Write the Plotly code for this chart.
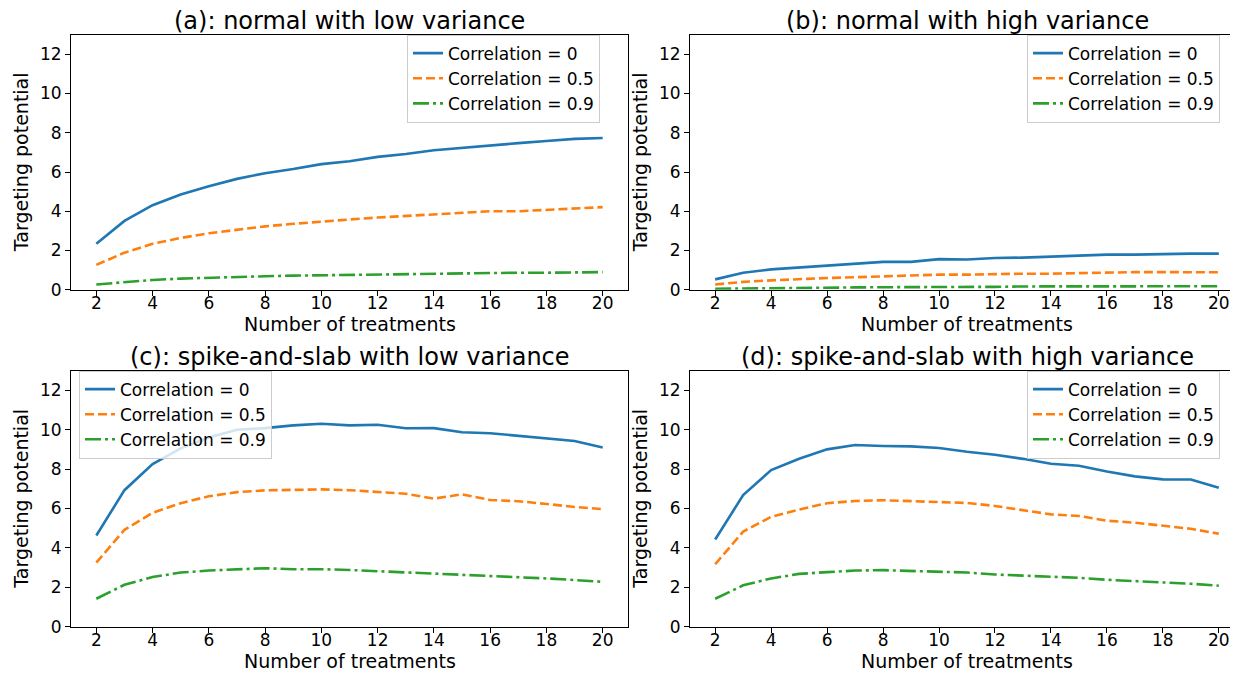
import plotly.graph_objects as go

# number of treatments
treatments = list(range(2, 21))

# (a) normal with low variance
a_corr0 = [2.34, 3.51, 4.31, 4.85, 5.27, 5.65, 5.94, 6.15, 6.40, 6.55, 6.77, 6.92, 7.11, 7.24, 7.36, 7.47, 7.58, 7.69, 7.73]
a_corr05 = [1.27, 1.89, 2.34, 2.64, 2.88, 3.06, 3.23, 3.36, 3.48, 3.58, 3.68, 3.76, 3.83, 3.90, 4.00, 4.00, 4.06, 4.15, 4.21]
a_corr09 = [0.27, 0.40, 0.50, 0.57, 0.62, 0.65, 0.69, 0.72, 0.74, 0.77, 0.79, 0.80, 0.82, 0.84, 0.85, 0.87, 0.87, 0.89, 0.90]

# (b) normal with high variance
b_corr0 = [0.53, 0.87, 1.04, 1.14, 1.25, 1.32, 1.42, 1.42, 1.56, 1.54, 1.62, 1.64, 1.69, 1.72, 1.79, 1.79, 1.82, 1.84, 1.84]
b_corr05 = [0.27, 0.40, 0.48, 0.55, 0.60, 0.64, 0.69, 0.72, 0.77, 0.77, 0.80, 0.82, 0.82, 0.85, 0.87, 0.90, 0.90, 0.89, 0.89]
b_corr09 = [0.05, 0.07, 0.09, 0.10, 0.12, 0.12, 0.13, 0.13, 0.15, 0.15, 0.15, 0.17, 0.17, 0.17, 0.18, 0.18, 0.18, 0.18, 0.18]

# (c) spike-and-slab with low variance
c_corr0 = [4.63, 6.93, 8.25, 9.05, 9.60, 10.00, 10.08, 10.22, 10.30, 10.22, 10.25, 10.07, 10.08, 9.87, 9.82, 9.68, 9.55, 9.43, 9.10]
c_corr05 = [3.25, 4.92, 5.78, 6.27, 6.62, 6.83, 6.92, 6.93, 6.97, 6.93, 6.85, 6.75, 6.50, 6.72, 6.43, 6.37, 6.23, 6.08, 5.97]
c_corr09 = [1.42, 2.13, 2.52, 2.75, 2.85, 2.92, 2.97, 2.92, 2.92, 2.88, 2.82, 2.77, 2.72, 2.63, 2.60, 2.53, 2.45, 2.37, 2.28]

# (d) spike-and-slab with high variance
d_corr0 = [4.43, 6.68, 7.95, 8.52, 9.00, 9.22, 9.17, 9.15, 9.07, 8.88, 8.73, 8.52, 8.27, 8.17, 7.88, 7.63, 7.48, 7.47, 7.05]
d_corr05 = [3.17, 4.83, 5.58, 5.95, 6.27, 6.38, 6.42, 6.37, 6.30, 6.28, 6.13, 5.92, 5.70, 5.62, 5.38, 5.28, 5.12, 4.97, 4.72]
d_corr09 = [1.42, 2.10, 2.45, 2.68, 2.77, 2.85, 2.87, 2.83, 2.80, 2.75, 2.65, 2.60, 2.52, 2.48, 2.38, 2.32, 2.23, 2.18, 2.08]

titles = ["(a): normal with low variance", "(b): normal with high variance",
          "(c): spike-and-slab with low variance", "(d): spike-and-slab with high variance"]
series_names = ["Correlation = 0", "Correlation = 0.5", "Correlation = 0.9"]
x_title = "Number of treatments"
y_title = "Targeting potential"

W, H = 1238, 677
FONT = "DejaVu Sans"
colors = ["#1f77b4", "#ff7f0e", "#2ca02c"]
dashes = ["solid", "9px,4px", "16px,4px,3px,4px"]

panels = [
    (a_corr0, a_corr05, a_corr09),
    (b_corr0, b_corr05, b_corr09),
    (c_corr0, c_corr05, c_corr09),
    (d_corr0, d_corr05, d_corr09),
]

# plot area boxes in pixels: left, right, top, bottom
boxes = [(63, 620, 27, 286), (682, 1236, 27, 286), (63, 620, 368, 628), (682, 1236, 368, 628)]
# legend top-left corner in pixels
legend_pos = [(399, 27), (1019, 27), (71, 368), (1019, 368)]


def ann(text, px, py, size, angle=0):
    fig.add_annotation(text=text, x=px / W, y=1 - py / H, xref="paper", yref="paper",
                       xanchor="center", yanchor="middle", showarrow=False, textangle=angle,
                       font=dict(family=FONT, size=size, color="black"))


fig = go.Figure()
layout = {}
for i, (vals, box, lp, title) in enumerate(zip(panels, boxes, legend_pos, titles)):
    sfx = "" if i == 0 else str(i + 1)
    leg = "legend" + sfx
    for name, y, c, d in zip(series_names, vals, colors, dashes):
        fig.add_trace(go.Scatter(x=treatments, y=y, mode="lines", name=name,
                                 line=dict(color=c, width=2.6, dash=d),
                                 xaxis="x" + sfx, yaxis="y" + sfx, legend=leg))
    l, r, t, b = box
    axis_common = dict(showline=True, linecolor="black", linewidth=1, mirror=True,
                       ticks="outside", ticklen=5, tickcolor="black", showgrid=False,
                       zeroline=False, tickfont=dict(family=FONT, size=17, color="black"))
    layout["xaxis" + sfx] = dict(domain=[l / W, r / W], anchor="y" + sfx, range=[1.1, 20.9],
                                 tickvals=list(range(2, 21, 2)), ticklabelstandoff=-7,
                                 **axis_common)
    layout["yaxis" + sfx] = dict(domain=[1 - b / H, 1 - t / H], anchor="x" + sfx, range=[0, 13],
                                 tickvals=list(range(0, 13, 2)), **axis_common)
    layout[leg] = dict(x=lp[0] / W, y=1 - lp[1] / H, xanchor="left", yanchor="top",
                       bgcolor="rgba(255,255,255,0.8)", bordercolor="#cccccc", borderwidth=1,
                       font=dict(family=FONT, size=17, color="black"), tracegroupgap=0)
    ann(title, (l + r) / 2, t - 14, 24)
    ann(x_title, (l + r) / 2, b + 35, 19)
    ann(y_title, l - 50, (t + b) / 2, 19, angle=-90)

fig.update_layout(**layout)
fig.update_layout(width=W, height=H, margin=dict(l=0, r=0, t=0, b=0),
                  plot_bgcolor="white", paper_bgcolor="white", showlegend=True)
fig.write_html("out.html")
